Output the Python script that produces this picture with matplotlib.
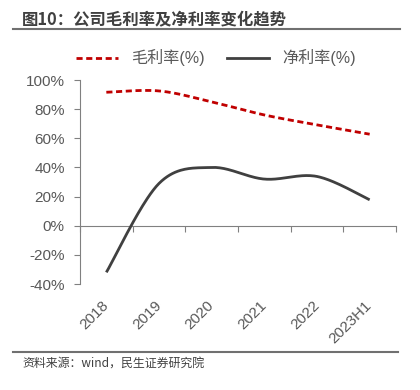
import numpy as np
import matplotlib
matplotlib.use("Agg")
from matplotlib import pyplot as plt
from matplotlib.lines import Line2D

plt.rcParams['font.family'] = ['Liberation Sans', 'Noto Sans CJK SC', 'DejaVu Sans']

years = ["2018", "2019", "2020", "2021", "2022", "2023H1"]
gross_margin = [91.6, 92.5, 85.0, 76.0, 69.2, 62.8]
net_margin = [-32.0, 29.0, 40.0, 32.0, 33.8, 17.8]
yticks = [-40, -20, 0, 20, 40, 60, 80, 100]

RED = "#C00000"
DARK = "#404040"
GRAY = "#595959"
AXIS = "#808080"


def smooth(xs, ys, n=40):
    # Excel-style smoothing: cubic bezier with catmull-rom control points
    xs = np.asarray(xs, float)
    ys = np.asarray(ys, float)
    px = np.concatenate([[xs[0]], xs, [xs[-1]]])
    py = np.concatenate([[ys[0]], ys, [ys[-1]]])
    out_x, out_y = [], []
    t = np.linspace(0, 1, n)
    for i in range(1, len(px) - 2):
        p0 = np.array([px[i], py[i]])
        p3 = np.array([px[i + 1], py[i + 1]])
        c1 = p0 + (np.array([px[i + 1], py[i + 1]]) - np.array([px[i - 1], py[i - 1]])) / 6
        c2 = p3 - (np.array([px[i + 2], py[i + 2]]) - np.array([px[i], py[i]])) / 6
        b = ((1 - t) ** 3)[:, None] * p0 + (3 * (1 - t) ** 2 * t)[:, None] * c1 \
            + (3 * (1 - t) * t ** 2)[:, None] * c2 + (t ** 3)[:, None] * p3
        out_x.extend(b[:, 0])
        out_y.extend(b[:, 1])
    return np.array(out_x), np.array(out_y)


fig = plt.figure(figsize=(4.2, 3.9), dpi=100)
ax = fig.add_axes([80 / 420, 1 - 284 / 390, 316 / 420, 204 / 390])

xs = np.arange(len(years))
gx, gy = smooth(xs, gross_margin)
nx, ny = smooth(xs, net_margin)
ax.plot(gx, gy, color=RED, lw=2.0, linestyle=(0, (2.2, 1.3)))
ax.plot(nx, ny, color=DARK, lw=2.0, solid_capstyle='butt')

ax.set_xlim(-0.5, len(years) - 0.5)
ax.set_ylim(-40, 100)
ax.set_yticks(yticks)
ax.set_yticklabels([f"{v}%" for v in yticks], fontsize=11, color=GRAY)
ax.set_xticks(xs)
ax.set_xticklabels(years, rotation=45, ha='right', va='center',
                   rotation_mode='anchor', fontsize=11, color=GRAY)
ax.tick_params(axis='x', length=0, pad=14)
ax.tick_params(axis='y', direction='out', length=4, color=AXIS, pad=7)

for s in ['top', 'right', 'bottom']:
    ax.spines[s].set_visible(False)
ax.spines['left'].set_color(AXIS)

# zero line with category boundary ticks
zero_pos = (0 - (-40)) / (100 - (-40))
sec = ax.secondary_xaxis(zero_pos)
sec.set_xticks(np.arange(len(years) + 1) - 0.5)
sec.set_xticklabels([])
sec.tick_params(direction='out', length=4, color=AXIS)
sec.spines['bottom'].set_color(AXIS)

handles = [Line2D([], [], color=RED, lw=2.0, linestyle=(0, (2.2, 1.3))),
           Line2D([], [], color=DARK, lw=2.0)]
fig.legend(handles, ["毛利率(%)", "净利率(%)"], loc='center left',
           bbox_to_anchor=(70 / 420, 1 - 58 / 390), ncol=2, frameon=False,
           handlelength=2.6, columnspacing=1.4, borderaxespad=0,
           handletextpad=0.8, labelcolor=GRAY,
           prop={'family': ['Liberation Sans', 'Noto Sans CJK SC'], 'size': 11.6})

fig.text(22 / 420, 1 - 20 / 390, "图10：公司毛利率及净利率变化趋势",
         fontsize=11.8, fontweight='bold', color=DARK, va='center',
         family=['Noto Sans CJK SC', 'DejaVu Sans'])
fig.add_artist(Line2D([13 / 420, 400 / 420], [1 - 28.5 / 390, 1 - 28.5 / 390],
                      color="#707070", lw=1.5))
fig.add_artist(Line2D([13 / 420, 398 / 420], [1 - 352 / 390, 1 - 352 / 390],
                      color="#707070", lw=1.5))
fig.text(22 / 420, 1 - 363 / 390, "资料来源：wind，民生证券研究院",
         fontsize=8.6, color=DARK, va='center',
         family=['Noto Sans CJK SC', 'DejaVu Sans'])

fig.savefig("out.png", dpi=100)
